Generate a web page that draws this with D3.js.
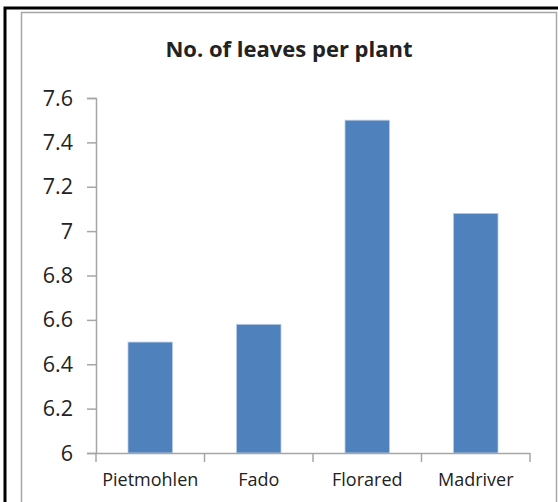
<!DOCTYPE html>
<html>
<head>
<meta charset="utf-8">
<script src="https://cdn.jsdelivr.net/npm/d3@7"></script>
<style>
  body { margin: 0; background: #fff; }
  svg text { font-family: "Open Sans", "Noto Sans", sans-serif; fill: #222; }
</style>
</head>
<body>
<svg width="558" height="502"></svg>
<script>
var varieties = ["Pietmohlen", "Fado", "Florared", "Madriver"];
var leaves = [6.5, 6.58, 7.5, 7.08];
var yTicks = [6, 6.2, 6.4, 6.6, 6.8, 7, 7.2, 7.4, 7.6];

var svg = d3.select("svg");

// outer frame (black) and chart area border (gray)
svg.append("rect").attr("x", 5).attr("y", 8).attr("width", 560).attr("height", 520)
    .attr("fill", "none").attr("stroke", "#000").attr("stroke-width", 3);
svg.append("rect").attr("x", 21.5).attr("y", 12.5).attr("width", 535).attr("height", 500)
    .attr("fill", "#fff").attr("stroke", "#a6a6a6").attr("stroke-width", 1.5);

var x = d3.scaleBand()
    .domain(varieties)
    .range([96, 530])
    .paddingInner(0.59)
    .paddingOuter(0.295);

var y = d3.scaleLinear()
    .domain([6, 7.6])
    .range([453, 98]);

svg.append("text")
    .attr("x", 289).attr("y", 57)
    .attr("text-anchor", "middle")
    .attr("font-size", 22)
    .attr("font-weight", "bold")
    .text("No. of leaves per plant");

svg.selectAll("rect.bar")
    .data(varieties).enter()
    .append("rect")
    .attr("class", "bar")
    .attr("x", function (d) { return x(d); })
    .attr("width", x.bandwidth())
    .attr("y", function (d, i) { return y(leaves[i]); })
    .attr("height", function (d, i) { return y(6) - y(leaves[i]); })
    .attr("fill", "#4f81bd")
    .attr("stroke", "#b9cde5")
    .attr("stroke-width", 0.8);

var yAxis = svg.append("g")
    .attr("transform", "translate(96,0)")
    .call(d3.axisLeft(y).tickValues(yTicks).tickSize(9).tickPadding(14)
        .tickFormat(function (d) { return d3.format("~g")(d); }));
yAxis.selectAll("text").attr("font-size", 21.5).attr("dy", "0.33em").attr("fill", "#222");

// x axis with ticks between categories
var xTickPos = d3.range(varieties.length + 1).map(function (i) {
    return 96 + i * (530 - 96) / varieties.length;
});
var xAxis = svg.append("g");
xAxis.append("line").attr("x1", 96).attr("x2", 530).attr("y1", 453.5).attr("y2", 453.5);
xAxis.selectAll("line.tk").data(xTickPos).enter().append("line")
    .attr("class", "tk")
    .attr("x1", function (d) { return d; }).attr("x2", function (d) { return d; })
    .attr("y1", 453).attr("y2", 462);
xAxis.selectAll("text").data(varieties).enter().append("text")
    .attr("x", function (d) { return x(d) + x.bandwidth() / 2; })
    .attr("y", 486)
    .attr("text-anchor", "middle")
    .attr("font-size", 18)
    .attr("fill", "#333")
    .text(function (d) { return d; });

svg.selectAll(".domain, .tick line").attr("stroke", "#a6a6a6").attr("stroke-width", 1.5);
xAxis.selectAll("line").attr("stroke", "#a6a6a6").attr("stroke-width", 1.5);
</script>
</body>
</html>
